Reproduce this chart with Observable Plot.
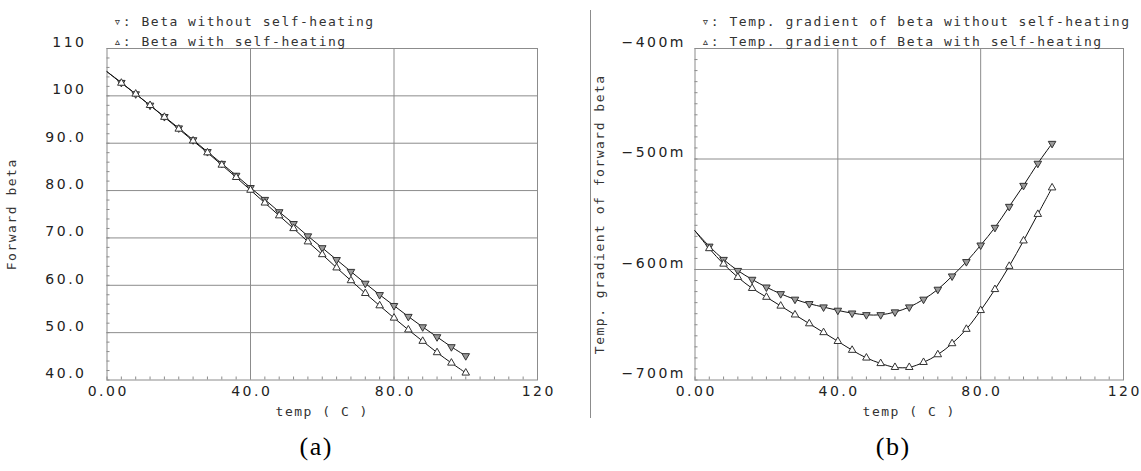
<!DOCTYPE html>
<html>
<head>
<meta charset="utf-8">
<script src="https://cdn.jsdelivr.net/npm/d3@7"></script>
<script src="https://cdn.jsdelivr.net/npm/@observablehq/plot@0.6"></script>
<style>
  body { margin: 0; background: #fff; }
  #wrap { position: relative; width: 1141px; height: 471px; overflow: hidden; background: #fff; }
  #wrap svg { position: absolute; top: 0; }
  #sep { position: absolute; left: 589.5px; top: 10px; width: 1px; height: 408px; background: #8c8c8c; }
  g[aria-label="x-axis tick label"], g[aria-label="y-axis tick label"] { font-family: 'DejaVu Sans', sans-serif; font-size: 14px; letter-spacing: 2.5px; }
</style>
</head>
<body>
<div id="wrap"><div id="sep"></div></div>
<script>
// ---- data ----
const temps = [0, 4, 8, 12, 16, 20, 24, 28, 32, 36, 40, 44, 48, 52, 56, 60, 64, 68, 72, 76, 80, 84, 88, 92, 96, 100];

// (a) Forward beta
const betaWithoutSH = [105.1, 102.8, 100.4, 98.0, 95.6, 93.2, 90.7, 88.2, 85.7, 83.2, 80.6, 78.1, 75.5, 73.0, 70.4, 67.9, 65.4, 62.9, 60.4, 58.0, 55.7, 53.4, 51.2, 49.1, 47.0, 45.1];
const betaWithSH    = [105.1, 102.7, 100.4, 98.0, 95.5, 93.0, 90.5, 88.0, 85.4, 82.8, 80.1, 77.4, 74.7, 72.0, 69.2, 66.5, 63.7, 61.0, 58.3, 55.7, 53.1, 50.6, 48.2, 45.8, 43.6, 41.5];

// (b) Temp. gradient of forward beta, in milli-units (m)
const gradWithoutSH = [-565, -579, -591, -601, -609, -616, -622, -627, -631, -634, -637, -639.5, -641, -641, -638.5, -634, -627, -618, -606, -593, -578, -562, -543, -524, -504, -486];
const gradWithSH    = [-565, -581, -595, -607, -617, -625, -633, -641, -649, -657, -665, -673, -680, -685, -688.5, -688.5, -684, -677, -667, -654, -637, -618, -597, -574, -550, -526];

// axes
const xTicks = [0, 40, 80, 120];
const xTickLabels = ["0.00", "40.0", "80.0", "120"];
const xGrid = [40, 80];
const yTicksA = [40, 50, 60, 70, 80, 90, 100, 110];
const yTickLabelsA = ["40.0", "50.0", "60.0", "70.0", "80.0", "90.0", "100", "110"];
const yTicksB = [-700, -600, -500, -400];
const yTickLabelsB = ["\u2212700m", "\u2212600m", "\u2212500m", "\u2212400m"];

const legendA = ["\u25BF: Beta without self-heating", "\u25B5: Beta with self-heating"];
const legendB = ["\u25BF: Temp. gradient of beta without self-heating", "\u25B5: Temp. gradient of Beta with self-heating"];

// ---- drawing ----
const downTriangle = {
  draw(context, size) {
    const s3 = Math.sqrt(3);
    const y = -Math.sqrt(size / (s3 * 3));
    context.moveTo(0, -y * 2);
    context.lineTo(-s3 * y, y);
    context.lineTo(s3 * y, y);
    context.closePath();
  }
};

const GRID = "#8c8c8c";
const INK = "#222";

function panel({left, width, marginLeft, marginRight, yDomain, yTicks, yTickLabels, yMinorStep, yTickPadding,
                seriesA, seriesB, yTitle, legend, caption, captionDx}) {
  const height = 471, marginTop = 48, marginBottom = 91.5;
  const plotW = width - marginLeft - marginRight;
  const plotH = height - marginTop - marginBottom;
  const rowsA = temps.map((t, i) => ({t, v: seriesA[i]}));
  const rowsB = temps.map((t, i) => ({t, v: seriesB[i]}));
  const yGrid = yTicks.slice(1, -1);
  const xMinor = d3.range(0, 121, 4);
  const yMinor = d3.range(yDomain[0], yDomain[1] + 1e-9, yMinorStep);
  const svg = Plot.plot({
    width, height, marginLeft, marginRight, marginTop, marginBottom,
    x: {domain: [0, 120]},
    y: {domain: yDomain},
    style: {fontFamily: "'DejaVu Sans Mono', monospace", fontSize: "13px", color: INK, background: "transparent"},
    marks: [
      Plot.gridX(xGrid, {stroke: GRID, strokeOpacity: 1}),
      Plot.gridY(yGrid, {stroke: GRID, strokeOpacity: 1}),
      Plot.ruleX(xMinor, {x: d => d, stroke: GRID, insetTop: plotH - 3}),
      Plot.ruleY(yMinor, {y: d => d, stroke: GRID, insetRight: plotW - 3}),
      Plot.frame({stroke: GRID}),
      Plot.axisX(xTicks, {tickSize: 0, tickPadding: 6.5, dx: 1.25, label: null,
        tickFormat: d => xTickLabels[xTicks.indexOf(d)], fill: INK}),
      Plot.axisY(yTicks, {tickSize: 0, tickPadding: yTickPadding, dy: -6, label: null,
        tickFormat: d => yTickLabels[yTicks.indexOf(d)], fill: INK}),
      Plot.line(rowsA, {x: "t", y: "v", stroke: "#111", strokeWidth: 1, curve: "catmull-rom"}),
      Plot.line(rowsB, {x: "t", y: "v", stroke: "#111", strokeWidth: 1, curve: "catmull-rom"}),
      Plot.dot(rowsA.filter(d => d.t > 0), {x: "t", y: "v", symbol: downTriangle, r: 2.8, stroke: "#333", fill: "#9a9a9a", strokeWidth: 1}),
      Plot.dot(rowsB.filter(d => d.t > 0), {x: "t", y: "v", symbol: "triangle", r: 2.8, stroke: "#333", fill: "white", strokeWidth: 1}),
      Plot.text([legend[0]], {text: d => d, frameAnchor: "top-left", textAnchor: "start", dx: 6.5, dy: -32, fill: "#333"}),
      Plot.text([legend[1]], {text: d => d, frameAnchor: "top-left", textAnchor: "start", dx: 6.5, dy: -12, fill: "#333"}),
      Plot.text(["temp ( C )"], {text: d => d, frameAnchor: "bottom", dy: 36, fill: "#333"}),
      Plot.text([yTitle], {text: d => d, frameAnchor: "left", textAnchor: "middle", rotate: -90, dx: -95, fill: "#333"}),
      Plot.text([caption], {text: d => d, frameAnchor: "bottom", dy: 75, dx: captionDx, fill: "#000",
        fontFamily: "'Liberation Serif', 'Times New Roman', serif", fontSize: 26})
    ]
  });
  svg.style.left = left + "px";
  svg.style.letterSpacing = "1.5px";
  return svg;
}

const wrap = document.getElementById("wrap");
wrap.appendChild(panel({
  left: 0, width: 590, marginLeft: 106.5, marginRight: 53,
  yDomain: [40, 110], yTicks: yTicksA, yTickLabels: yTickLabelsA, yMinorStep: 2, yTickPadding: 20.5,
  seriesA: betaWithoutSH, seriesB: betaWithSH, yTitle: "Forward beta", legend: legendA,
  caption: "(a)", captionDx: -6
}));
wrap.appendChild(panel({
  left: 590, width: 551, marginLeft: 104.5, marginRight: 18,
  yDomain: [-700, -400], yTicks: yTicksB, yTickLabels: yTickLabelsB, yMinorStep: 10, yTickPadding: 9,
  seriesA: gradWithoutSH, seriesB: gradWithSH, yTitle: "Temp. gradient of forward beta", legend: legendB,
  caption: "(b)", captionDx: -16
}));
</script>
</body>
</html>
